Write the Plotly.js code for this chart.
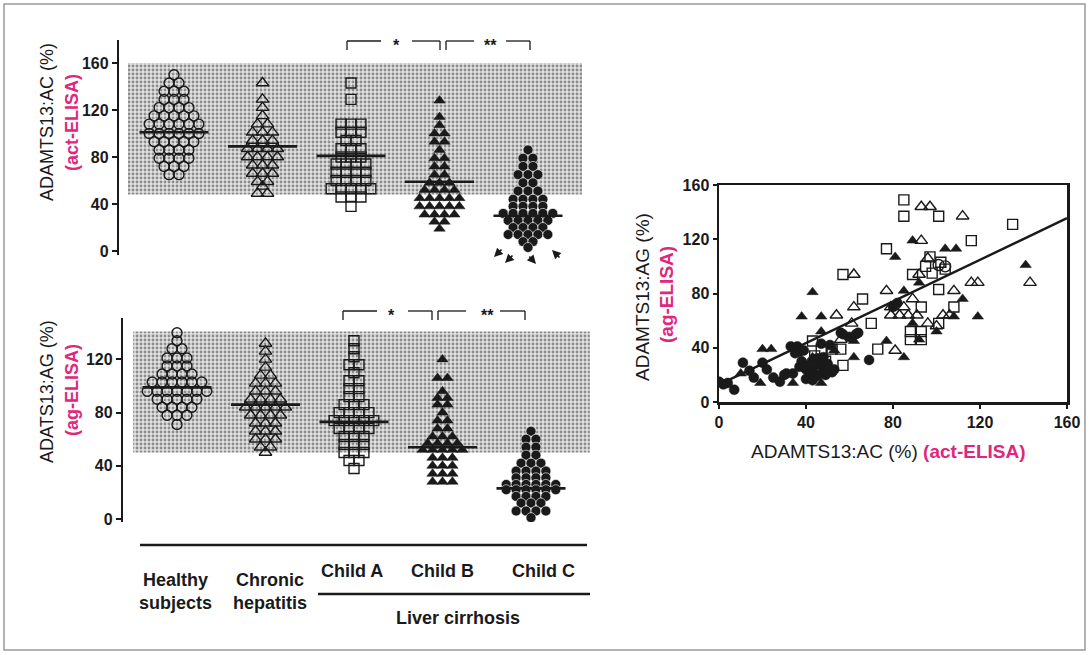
<!DOCTYPE html>
<html><head><meta charset="utf-8">
<script src="https://cdn.plot.ly/plotly-3.0.1.min.js"></script>
<style>html,body{margin:0;padding:0;background:#fff}</style>
</head><body><div id="chart" style="width:1089px;height:655px"></div>
<script>
// ---------- DATA ----------
const groups = ['Healthy subjects', 'Chronic hepatitis', 'Child A', 'Child B', 'Child C'];

// ADAMTS13:AC (act-ELISA), %
const healthyAC = [150,143,143,136,136,136,129,129,129,122,122,122,122,115,115,115,115,115,108,108,108,108,108,108,100,100,100,100,100,100,93,93,93,93,93,86,86,86,86,79,79,79,79,72,72,72,65,65];
const chronicAC = [143,129,122,115,108,108,101,101,101,94,94,94,87,87,87,87,80,80,80,80,73,73,73,66,66,66,59,59,55,49,49];
const childA_AC = [143,129,108,108,108,101,101,101,94,94,87,87,87,80,80,80,74,74,74,74,67,67,67,67,60,60,60,60,53,53,53,53,53,46,46,46,38];
const childB_AC = [128,114,107,100,100,93,93,86,79,79,72,72,65,65,58,58,58,52,52,52,52,45,45,45,45,45,38,38,38,38,38,31,31,31,31,25,25,19];
const childC_AC = [86,79,79,72,72,65,65,65,58,58,51,51,51,44,44,44,44,38,38,38,38,32,32,32,32,32,32,26,26,26,26,26,20,20,20,20,14,14,14,14,14,8,8,3];
const medianAC = [101, 89, 81, 59, 30];
const refRangeAC = [48, 160];

// ADAMTS13:AG (ag-ELISA), %
const healthyAG = [140,134,128,128,121,121,121,115,115,115,109,109,109,109,103,103,103,103,103,103,96,96,96,96,96,96,96,90,90,90,90,90,84,84,84,84,78,78,78,71];
const chronicAG = [132,126,120,114,108,108,102,102,102,96,96,96,90,90,90,90,84,84,84,84,84,78,78,78,78,72,72,72,66,66,66,60,60,60,54,54,50];
const childA_AG = [134,128,122,116,116,110,104,104,98,98,92,92,86,86,86,80,80,80,80,74,74,74,74,74,68,68,68,68,62,62,62,56,56,56,50,50,50,44,44,38];
const childB_AG = [120,106,106,96,91,91,86,86,80,74,74,68,68,62,62,62,57,57,57,57,52,52,52,52,52,46,46,46,40,40,40,34,34,34,28,28,28];
const childC_AG = [66,60,60,54,54,48,48,42,42,42,36,36,36,36,31,31,31,31,26,26,26,26,26,26,22,22,22,22,22,22,17,17,17,17,12,12,12,6,6,6,6,1];
const medianAG = [99, 86, 73, 54, 23];
const refRangeAG = [50, 141];

// Scatter: AC (x) vs AG (y)
const scatChronicX = [93,97,112,93,96,62,92,108,116,119,143,77,62,54,79,83,87,91,79,85,89,103,106,96,100,81,61,56];
const scatChronicY = [144,144,137,119,106,94,94,82,88,88,88,82,70,64,64,64,64,64,70,70,76,64,64,58,56,38,58,46];
const scatChildAX = [85,85,101,135,116,77,97,102,98,89,57,101,93,108,66,70,101,88,93,88,93,73,57,43,47,52,56,49,44,104,95];
const scatChildAY = [149,137,137,131,119,113,107,103,95,94,94,83,70,70,76,58,58,52,52,46,46,39,27,45,39,39,39,30,34,98,100];
const scatChildBX = [43,38,47,20,24,10,19,34,47,89,81,104,109,141,92,85,112,108,119,89,100,92,77,85,62,62,47,43,53,45];
const scatChildBY = [81,63,63,39,39,21,14,14,14,119,107,113,113,101,88,82,76,63,63,58,52,46,45,33,33,45,52,33,38,26];
const scatChildCX = [0,2,4,7,11,14,16,20,22,25,28,30,31,34,33,36,35,37,37,39,38,40,42,43,45,44,47,48,49,50,52,53,47,51,48,42,45,40,60,63,56,57,64,69,80,82];
const scatChildCY = [15,13,14,9,29,23,18,29,24,18,15,20,21,21,41,41,36,37,26,38,30,24,21,16,32,21,29,24,20,28,22,24,43,42,33,28,19,17,48,50,51,50,51,31,70,73];
const scatHealthyX = [101, 104];
const scatHealthyY = [101, 100];
const regIntercept = 12.8;
const regSlope = 0.767;

// ---------- LAYOUT HELPERS ----------
const W = 1089, H = 655;
const px = x => x / W;
const py = y => 1 - y / H;
const FONT = 'Liberation Sans, Arial, sans-serif';
const INK = '#1a1a1a';
const PINK = '#e0267d';

function swarm(vals, center, dx) {
  const counts = {}, seen = {};
  vals.forEach(v => counts[v] = (counts[v] || 0) + 1);
  return vals.map(v => {
    const i = seen[v] || 0; seen[v] = i + 1;
    return center + (i - (counts[v] - 1) / 2) * dx;
  });
}

const symbols = ['circle-open', 'triangle-up-open', 'square-open', 'triangle-up', 'circle'];
const sizes = [10, 11, 10, 10, 10];
function dotTraces(sets, xa, ya) {
  return sets.map((vals, g) => ({
    type: 'scatter', mode: 'markers', xaxis: xa, yaxis: ya,
    x: swarm(vals, g + 1, 0.112), y: vals, name: groups[g],
    marker: {
      symbol: symbols[g], size: sizes[g],
      color: INK,
      line: g >= 3 ? {color: g === 4 ? '#fff' : INK, width: g === 4 ? 0.6 : 0.5} : {color: INK, width: 1.4}
    },
    hoverinfo: 'skip'
  }));
}
function medianTrace(meds, xa, ya) {
  const x = [], y = [];
  meds.forEach((m, g) => { x.push(g + 1 - 0.39, g + 1 + 0.39, null); y.push(m, m, null); });
  return {type: 'scatter', mode: 'lines', x, y, xaxis: xa, yaxis: ya, line: {color: INK, width: 2.6}, hoverinfo: 'skip'};
}
function refBar(range, xa, ya, center, width) {
  return {type: 'bar', x: [center], y: [range[1] - range[0]], base: [range[0]], width: [width], xaxis: xa, yaxis: ya,
    marker: {color: '#d2d2d2', line: {width: 0}, pattern: {shape: '.', size: 4, solidity: 0.4, fgcolor: '#8c8c8c', bgcolor: '#e2e2e2'}},
    hoverinfo: 'skip'};
}

const traces = [];
traces.push(refBar(refRangeAC, 'x', 'y', 3.045, 5.13));
traces.push(refBar(refRangeAG, 'x2', 'y2', 3.085, 5.16));
traces.push(...dotTraces([healthyAC, chronicAC, childA_AC, childB_AC, childC_AC], 'x', 'y'));
traces.push(medianTrace(medianAC, 'x', 'y'));
traces.push(...dotTraces([healthyAG, chronicAG, childA_AG, childB_AG, childC_AG], 'x2', 'y2'));
traces.push(medianTrace(medianAG, 'x2', 'y2'));

const scatStyle = (sym, size, filled) => ({symbol: sym, size: size, color: INK, line: {color: INK, width: filled ? 0.5 : 1.4}});
traces.push({type: 'scatter', mode: 'markers', x: scatChildCX, y: scatChildCY, xaxis: 'x3', yaxis: 'y3', marker: scatStyle('circle', 10, true), hoverinfo: 'skip'});
traces.push({type: 'scatter', mode: 'markers', x: scatChildBX, y: scatChildBY, xaxis: 'x3', yaxis: 'y3', marker: scatStyle('triangle-up', 10, true), hoverinfo: 'skip'});
traces.push({type: 'scatter', mode: 'markers', x: scatChildAX, y: scatChildAY, xaxis: 'x3', yaxis: 'y3', marker: scatStyle('square-open', 10, false), hoverinfo: 'skip'});
traces.push({type: 'scatter', mode: 'markers', x: scatChronicX, y: scatChronicY, xaxis: 'x3', yaxis: 'y3', marker: scatStyle('triangle-up-open', 11, false), hoverinfo: 'skip'});
traces.push({type: 'scatter', mode: 'markers', x: scatHealthyX, y: scatHealthyY, xaxis: 'x3', yaxis: 'y3', marker: scatStyle('circle-open', 11, false), hoverinfo: 'skip'});
traces.push({type: 'scatter', mode: 'lines', x: [0, 160], y: [regIntercept, regIntercept + regSlope * 160], xaxis: 'x3', yaxis: 'y3', line: {color: INK, width: 2.4}, hoverinfo: 'skip'});

// ---------- SHAPES & ANNOTATIONS ----------
const shapes = [];
const annotations = [];
const seg = (x0, y0, x1, y1, w) => shapes.push({type: 'line', xref: 'paper', yref: 'paper', x0: px(x0), y0: py(y0), x1: px(x1), y1: py(y1), line: {color: INK, width: w || 1.3}});
const txt = (x, y, text, font, extra) => annotations.push(Object.assign({xref: 'paper', yref: 'paper', x: px(x), y: py(y), text, showarrow: false, xanchor: 'center', yanchor: 'middle', font: font}, extra || {}));

// outer frame
shapes.push({type: 'rect', xref: 'paper', yref: 'paper', x0: px(4), y0: py(650), x1: px(1085), y1: py(4), line: {color: '#9a9a9a', width: 1.5}});

// significance brackets
function bracket(xl, xr, gl, gr, y, drop) {
  seg(xl, y + drop, xl, y); seg(xl, y, gl, y); seg(gr, y, xr, y); seg(xr, y, xr, y + drop);
}
const starFont = {family: FONT, size: 16, color: INK, weight: 'bold'};
bracket(347, 440, 381, 412, 41, 9); bracket(446, 530, 474, 506, 41, 9);
txt(396, 45, '*', starFont); txt(490, 45, '**', starFont);
bracket(343, 432, 377, 408, 311, 9); bracket(438, 525, 466, 500, 311, 9);
txt(391, 315, '*', starFont); txt(487, 315, '**', starFont);

// group labels & lines
seg(140, 545, 587, 545, 2.6);
seg(318, 594, 590, 594, 2.6);
const lab = {family: FONT, size: 18, color: INK, weight: 'bold'};
txt(175, 591, 'Healthy<br>subjects', lab);
txt(270, 591, 'Chronic<br>hepatitis', lab);
txt(352, 571, 'Child A', lab);
txt(442, 571, 'Child B', lab);
txt(543, 571, 'Child C', lab);
txt(458, 618, 'Liver cirrhosis', lab);

// axis titles (one annotation per line)
const tfont = {family: FONT, size: 18, color: INK};
const pfont = {family: FONT, size: 18, color: PINK, weight: 'bold'};
const rot = {textangle: -90};
txt(47, 122, 'ADAMTS13:AC (%)', tfont, rot);
txt(72, 123, '(act-ELISA)', pfont, rot);
txt(47, 391, 'ADATS13:AG (%)', tfont, rot);
txt(72, 390, '(ag-ELISA)', pfont, rot);
txt(642, 297, 'ADAMTS13:AG (%)', {family: FONT, size: 19, color: INK}, rot);
txt(666, 295, '(ag-ELISA)', {family: FONT, size: 19, color: PINK, weight: 'bold'}, rot);
txt(888, 452, 'ADAMTS13:AC (%) <span style="color:' + PINK + ';font-weight:bold">(act-ELISA)</span>', {family: FONT, size: 19, color: INK});

// arrows under Child C
[[494, 257, 9, -9], [505, 263, 9, -9], [536, 264, -8, -9], [552, 250, 9, 9]].forEach(a => {
  annotations.push({xref: 'paper', yref: 'paper', x: px(a[0]), y: py(a[1]), ax: a[2], ay: a[3], text: '', showarrow: true,
    arrowhead: 2, arrowsize: 1.1, arrowwidth: 1.6, arrowcolor: INK, standoff: 0});
});

// ---------- AXES ----------
const tickfont = {family: FONT, size: 16, color: INK, weight: 'bold'};
const hidden = {showline: false, showticklabels: false, showgrid: false, zeroline: false, ticks: ''};
const yBase = {showline: true, linewidth: 2.2, linecolor: INK, ticks: 'outside', ticklen: 5, tickwidth: 2, tickcolor: INK,
  showgrid: false, zeroline: false, tickfont: tickfont, fixedrange: true};

const layout = {
  width: W, height: H, margin: {l: 0, r: 0, t: 0, b: 0},
  paper_bgcolor: '#fff', plot_bgcolor: 'rgba(0,0,0,0)', showlegend: false, barmode: 'overlay',
  font: {family: FONT, color: INK},
  xaxis: Object.assign({domain: [px(119), px(600)], range: [0.3785, 5.8136], anchor: 'y'}, hidden),
  yaxis: Object.assign({domain: [py(255), py(40)], range: [-3.4, 179.57], tickvals: [0, 40, 80, 120, 160], anchor: 'x'}, yBase),
  xaxis2: Object.assign({domain: [px(123), px(603)], range: [0.3898, 5.8136], anchor: 'y2'}, hidden),
  yaxis2: Object.assign({domain: [py(522), py(318)], range: [-2.256, 151.13], tickvals: [0, 40, 80, 120], anchor: 'x2'}, yBase),
  xaxis3: {domain: [px(719), px(1067)], range: [0, 160], tickvals: [0, 40, 80, 120, 160], anchor: 'y3', showline: true, mirror: true,
    linewidth: 2.5, linecolor: INK, ticks: 'outside', ticklen: 4, tickwidth: 2, tickcolor: INK, showgrid: false, zeroline: false, tickfont: tickfont},
  yaxis3: {domain: [py(402), py(185)], range: [0, 160], tickvals: [0, 40, 80, 120, 160], anchor: 'x3', showline: true, mirror: true,
    linewidth: 2.5, linecolor: INK, ticks: 'outside', ticklen: 4, tickwidth: 2, tickcolor: INK, showgrid: false, zeroline: false, tickfont: tickfont},
  shapes, annotations
};

Plotly.newPlot('chart', traces, layout, {displayModeBar: false, staticPlot: true});
</script>
</body></html>
